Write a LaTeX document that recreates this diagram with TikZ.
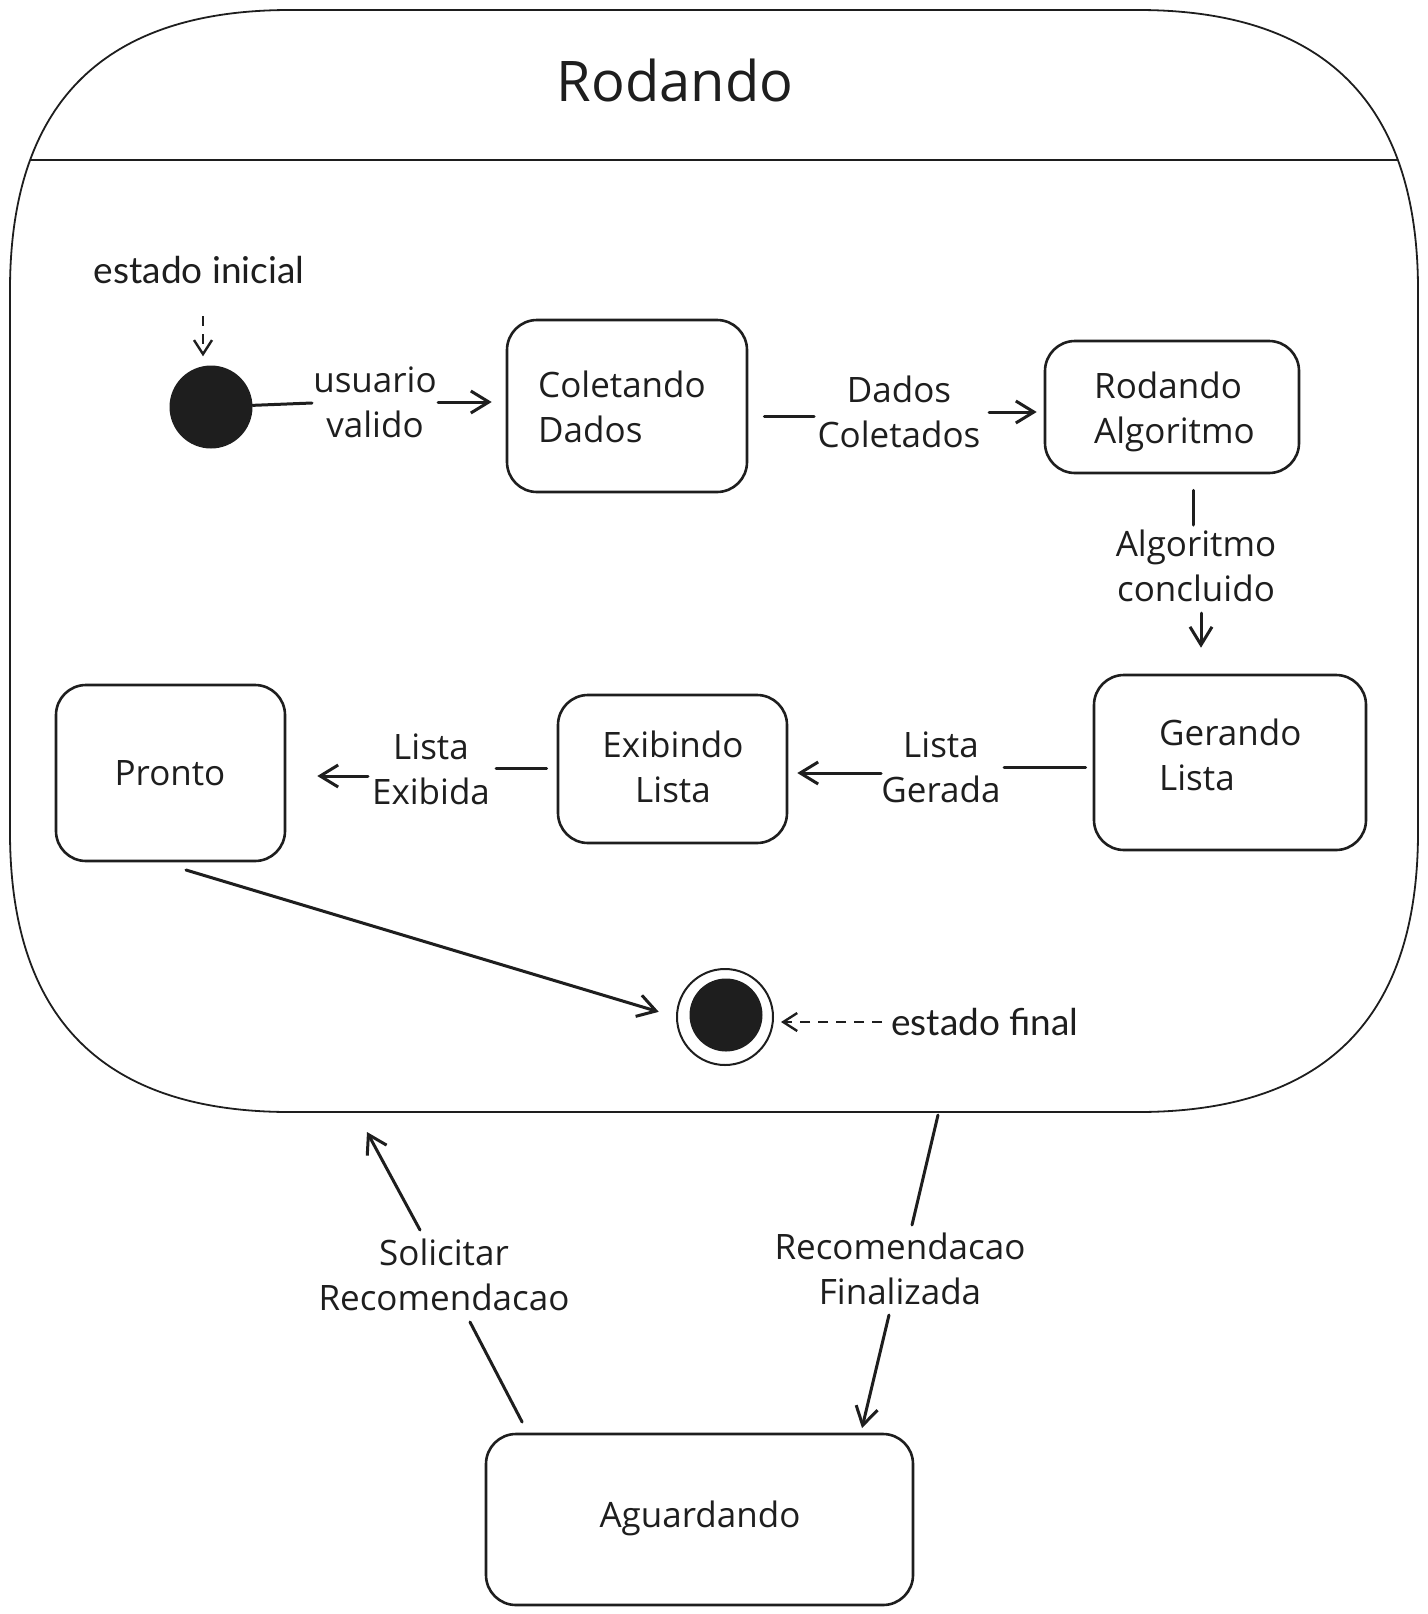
\documentclass[tikz,border=0pt]{standalone}
\usepackage{fontspec}
\setmainfont{Open Sans}
\newfontfamily\notefont{Lato}
\usetikzlibrary{arrows.meta,calc}
\definecolor{ink}{HTML}{1E1E1E}
\begin{document}
\begin{tikzpicture}[x=1pt,y=-1pt,
  stbox/.style={draw=ink, line width=2.6pt, rounded corners=30pt, inner sep=0pt},
  hand/.style={font=\fontsize{35}{45}\selectfont, text=ink, align=center, inner sep=0pt},
  handl/.style={hand, align=left, anchor=west},
  note/.style={font=\notefont\fontsize{37}{42}\selectfont, text=ink, inner sep=0pt},
  conn/.style={draw=ink, line width=3pt, line cap=round},
  arr/.style={conn, -{Straight Barb[length=18pt,width=22pt]}},
  dasharr/.style={draw=ink, line width=2.4pt, dash pattern=on 10pt off 8pt, -{Straight Barb[length=14pt,width=18pt]}},
]
\useasboundingbox (0,0) rectangle (1427,1614);

% composite state "Rodando"
\draw[ink, line width=1.8pt]
  (10,290) .. controls (10,103.3) and (103.3,10) .. (290,10)
  -- (1138,10) .. controls (1324.7,10) and (1418,103.3) .. (1418,290)
  -- (1418,832) .. controls (1418,1018.7) and (1324.7,1112) .. (1138,1112)
  -- (290,1112) .. controls (103.3,1112) and (10,1018.7) .. (10,832) -- cycle;
\draw[ink, line width=2pt] (30,160) -- (1398,160);
\node[font=\fontsize{56}{60}\selectfont, text=ink, inner sep=0pt] (title) at (675,80) {Rodando};

% states
\node[stbox, minimum width=240pt, minimum height=172pt] (col) at (627,406) {};
\node[handl] (colT) at (538,407) {Coletando\\Dados};
\node[stbox, minimum width=254pt, minimum height=132pt] (alg) at (1172,407) {};
\node[handl] (algT) at (1094,412) {Rodando\\Algoritmo};
\node[stbox, minimum width=272pt, minimum height=175pt] (ger) at (1230,762.5) {};
\node[handl] (gerT) at (1159,755) {Gerando\\Lista};
\node[stbox, minimum width=229pt, minimum height=148pt] (exi) at (672.5,769) {};
\node[hand] (exiT) at (673,767) {Exibindo\\Lista};
\node[stbox, minimum width=229pt, minimum height=176pt] (pro) at (170.5,773) {};
\node[hand] (proT) at (170,773) {Pronto};
\node[stbox, minimum width=427pt, minimum height=171pt] (agu) at (699.5,1519.5) {};
\node[hand] (aguT) at (700,1518) {Aguardando};

% pseudo states
\node[circle, fill=ink, minimum size=83pt, inner sep=0pt] (ini) at (211,407) {};
\node[circle, draw=ink, line width=2pt, minimum size=96pt, inner sep=0pt] (fin) at (725,1017) {};
\node[circle, fill=ink, minimum size=73pt, inner sep=0pt] (finc) at (726,1015) {};

% notes
\node[note] (inote) at (199,270) {estado inicial};
\node[note, anchor=west] (fnote) at (891,1022) {estado final};

% transition labels
\node[hand] (l1) at (375,402) {usuario\\valido};
\node[hand] (l2) at (899,412) {Dados\\Coletados};
\node[hand] (l3) at (1196,566) {Algoritmo\\concluido};
\node[hand] (l4) at (941,767) {Lista\\Gerada};
\node[hand] (l5) at (431,769) {Lista\\Exibida};
\node[hand] (l6) at (444,1275) {Solicitar\\Recomendacao};
\node[hand] (l7) at (900,1269) {Recomendacao\\Finalizada};

% coordinates
\coordinate (u1) at (312,403);
\coordinate (u2) at (438,402);
\coordinate (d1) at (814,416);
\coordinate (d2) at (989,412);
\coordinate (a1) at (1193,525);
\coordinate (a2) at (1201,613);
\coordinate (g1) at (1004,767);
\coordinate (g2) at (881,773);
\coordinate (e1) at (496,768);
\coordinate (e2) at (368,776);
\coordinate (p1) at (186,870);
\coordinate (i1) at (203,316);
\coordinate (s0) at ($(agu.north west)+(43,0)$);
\coordinate (s1) at (470,1322);
\coordinate (s2) at (420,1230);
\coordinate (s3) at (367,1132);
\coordinate (r0) at (938,1115);
\coordinate (r1) at (912,1225);
\coordinate (r2) at (889,1315);
\coordinate (r3) at (862,1428);

% connectors
\draw[conn] (ini) -- (u1);
\draw[arr, shorten >=14pt] (u2) -- (u2 -| col.west);
\draw[conn, shorten <=16pt] (d1 -| col.east) -- (d1);
\draw[arr, shorten >=7pt] (d2) -- (d2 -| alg.west);
\draw[conn, shorten <=16pt] (a1 |- alg.south) -- (a1);
\draw[arr, shorten >=26pt] (a2) -- (a2 |- ger.north);
\draw[conn, shorten <=7pt] (g1 -| ger.west) -- (g1);
\draw[arr, shorten >=9pt] (g2) -- (g2 -| exi.east);
\draw[conn, shorten <=10pt] (e1 -| exi.west) -- (e1);
\draw[arr, shorten >=31pt] (e2) -- (e2 -| pro.east);
\draw[arr, shorten >=18pt] (p1) -- (fin.west);
\draw[dasharr, shorten <=9pt, shorten >=7pt] (fnote.west) -- (fnote.west -| fin.east);
\draw[dasharr, shorten >=9pt] (i1) -- (i1 |- ini.north);
\draw[conn, shorten <=12pt] (s0) -- (s1);
\draw[arr] (s2) -- (s3);
\draw[conn] (r0) -- (r1);
\draw[arr] (r2) -- (r3);
\end{tikzpicture}
\end{document}
